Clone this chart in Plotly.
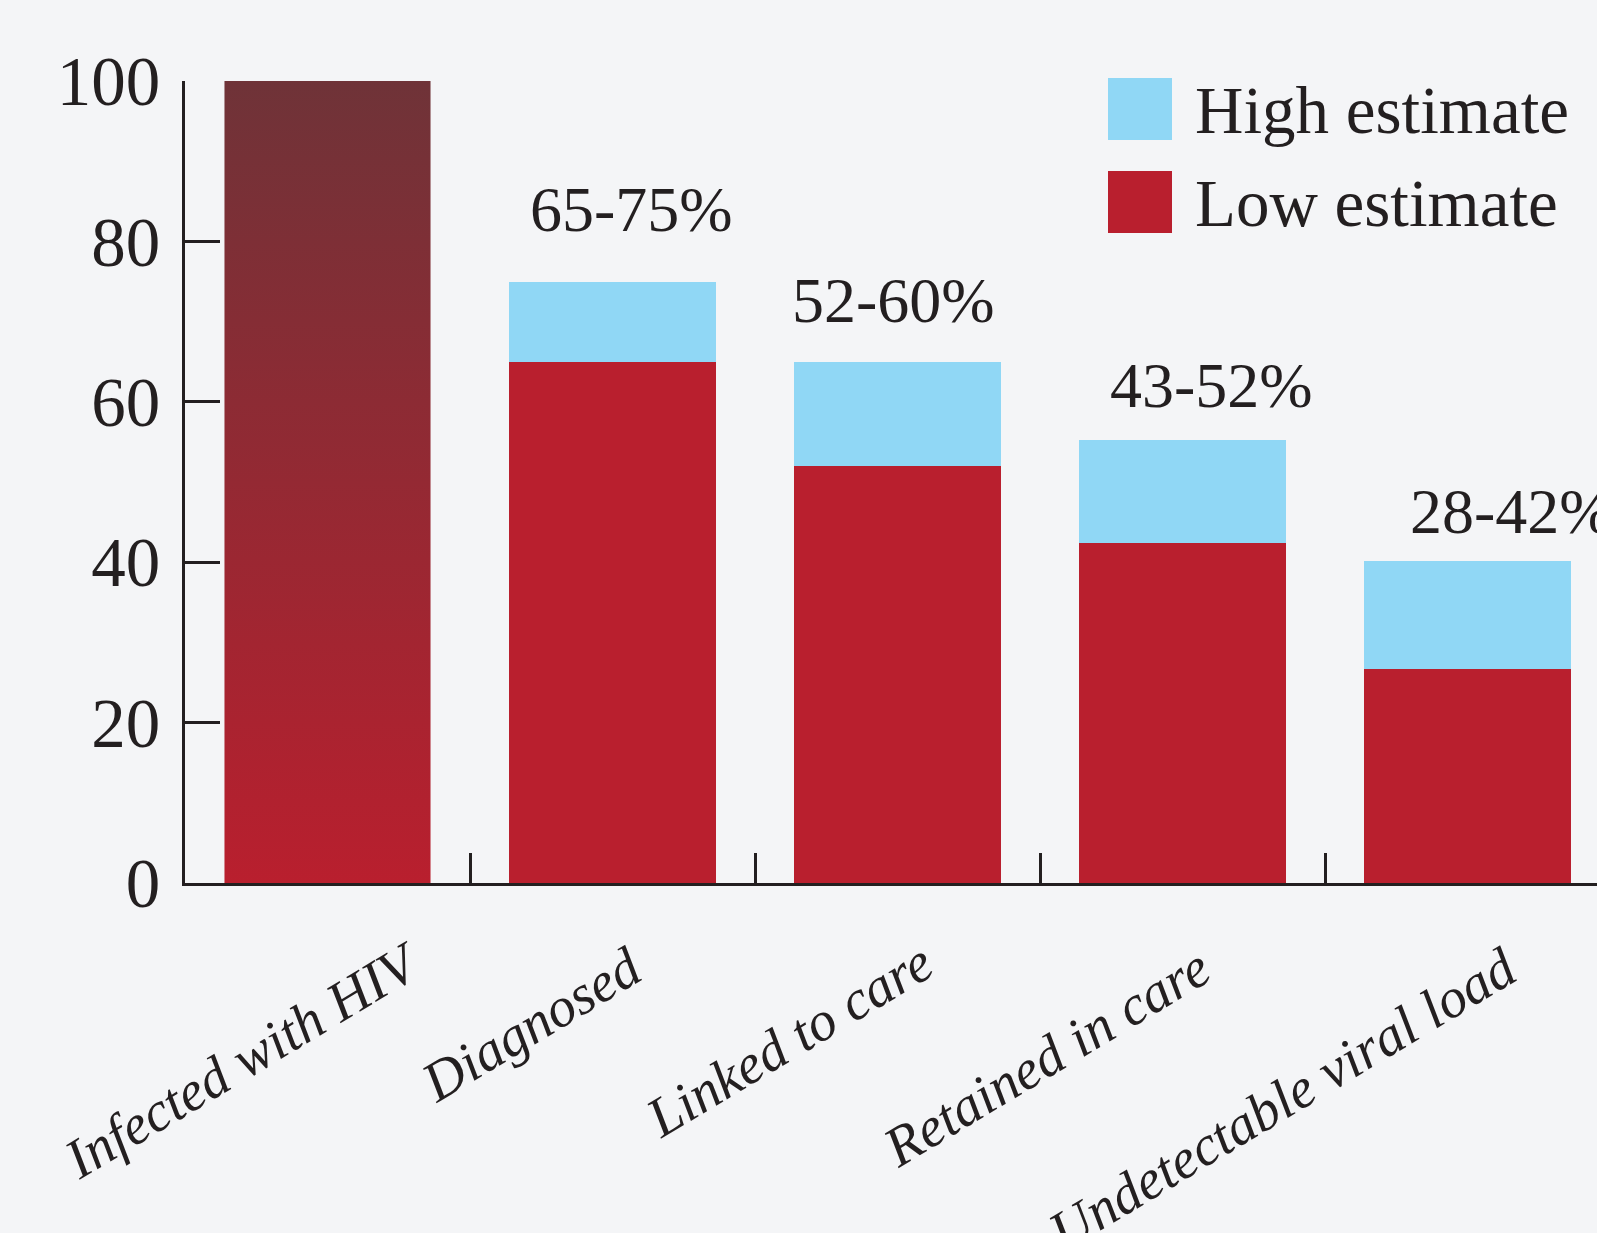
import plotly.graph_objects as go

# ---------------- data ----------------
categories = ["Infected with HIV", "Diagnosed", "Linked to care",
              "Retained in care", "Undetectable viral load"]
infected_value = 100
low_estimate = [65, 52, 42.4, 26.7]      # Diagnosed .. Undetectable
high_estimate = [75, 65, 55.2, 40.2]
range_labels = ["65-75%", "52-60%", "43-52%", "28-42%"]
y_ticks = [0, 20, 40, 60, 80, 100]
legend_names = ["High estimate", "Low estimate"]

# ---------------- style ----------------
RED = "#b91f2e"
DARK = "#6f3338"
BLUE = "#90d7f5"
INK = "#231f20"
BG = "#f4f5f7"
FONT = "Liberation Serif"
W, H = 1597, 1233
ML, MR, MT, MB = 185, 0, 81, 350
BAR_W = 0.723

positions = list(range(len(categories)))
stage_pos = positions[1:]

fig = go.Figure()

# first bar (gradient) built from its value through the axes
x0 = positions[0] - BAR_W / 2
x1 = positions[0] + BAR_W / 2
fig.add_trace(go.Scatter(
    x=[x0, x1, x1, x0, x0], y=[0, 0, infected_value, infected_value, 0],
    mode="lines", line=dict(width=0, color=RED), fill="toself",
    fillcolor=RED,
    fillgradient=dict(type="vertical", colorscale=[[0, RED], [1, DARK]]),
    showlegend=False, hoverinfo="skip"))

fig.add_trace(go.Bar(x=stage_pos, y=low_estimate, name=legend_names[1],
                     marker=dict(color=RED, line=dict(width=0)), width=BAR_W,
                     showlegend=False))
fig.add_trace(go.Bar(x=stage_pos, y=[h - l for h, l in zip(high_estimate, low_estimate)],
                     name=legend_names[0], marker=dict(color=BLUE, line=dict(width=0)),
                     width=BAR_W, showlegend=False))

annotations = []
# category labels (rotated, italic)
label_shift = [(107, -43), (43, -49), (48, -45), (41, -50), (62, -49)]
for p, name, (dx, dy) in zip(positions, categories, label_shift):
    annotations.append(dict(x=p, y=0, xref="x", yref="y", text=name, showarrow=False,
                            textangle=-31, xanchor="right", yanchor="top",
                            xshift=dx, yshift=dy,
                            font=dict(family=FONT, size=56, color=INK, style="italic")))

# range labels above bars
pct_shift = [(18.5, 71.6), (-4.5, 61), (28.5, 55.2), (43.5, 49.3)]
for p, hv, txt, (dx, dy) in zip(stage_pos, high_estimate, range_labels, pct_shift):
    annotations.append(dict(x=p, y=hv, xref="x", yref="y", text=txt, showarrow=False,
                            xanchor="center", yanchor="middle", xshift=dx, yshift=dy,
                            font=dict(family=FONT, size=64, color=INK)))

# manual legend
PW = W - ML - MR
PH = H - MT - MB


def px(x):
    return (x - ML) / PW


def py(y):
    return (H - MB - y) / PH


shapes = []
for name, col, top in [(legend_names[0], BLUE, 78), (legend_names[1], RED, 171)]:
    shapes.append(dict(type="rect", xref="paper", yref="paper",
                       x0=px(1108), x1=px(1172), y0=py(top + 62), y1=py(top),
                       fillcolor=col, line=dict(width=0), layer="above"))
    annotations.append(dict(x=px(1193), y=py(top + 32), xref="paper", yref="paper",
                            text=name, showarrow=False, xanchor="left", yanchor="middle",
                            font=dict(family=FONT, size=67, color=INK)))

fig.update_layout(
    width=W, height=H,
    margin=dict(l=ML, r=MR, t=MT, b=MB, pad=0),
    paper_bgcolor=BG, plot_bgcolor="rgba(0,0,0,0)",
    barmode="stack", bargap=0,
    showlegend=False,
    annotations=annotations, shapes=shapes,
    font=dict(family=FONT, color=INK),
)
fig.update_xaxes(range=[-0.5, -0.5 + PW / 285], showgrid=False, zeroline=False,
                 showline=True, linecolor=INK, linewidth=3,
                 tickmode="array", tickvals=[p + 0.5 for p in positions[:-1]],
                 ticks="inside", ticklen=30, tickwidth=3, tickcolor=INK,
                 showticklabels=False, fixedrange=True)
fig.update_yaxes(range=[0, 100], showgrid=False, zeroline=False,
                 showline=True, linecolor=INK, linewidth=3,
                 tickmode="array", tickvals=y_ticks, ticktext=[str(v) for v in y_ticks],
                 ticks="inside", ticklen=35, tickwidth=3, tickcolor=INK,
                 ticklabelstandoff=8,
                 tickfont=dict(family=FONT, size=69, color=INK), fixedrange=True)

fig.write_html("out.html")
